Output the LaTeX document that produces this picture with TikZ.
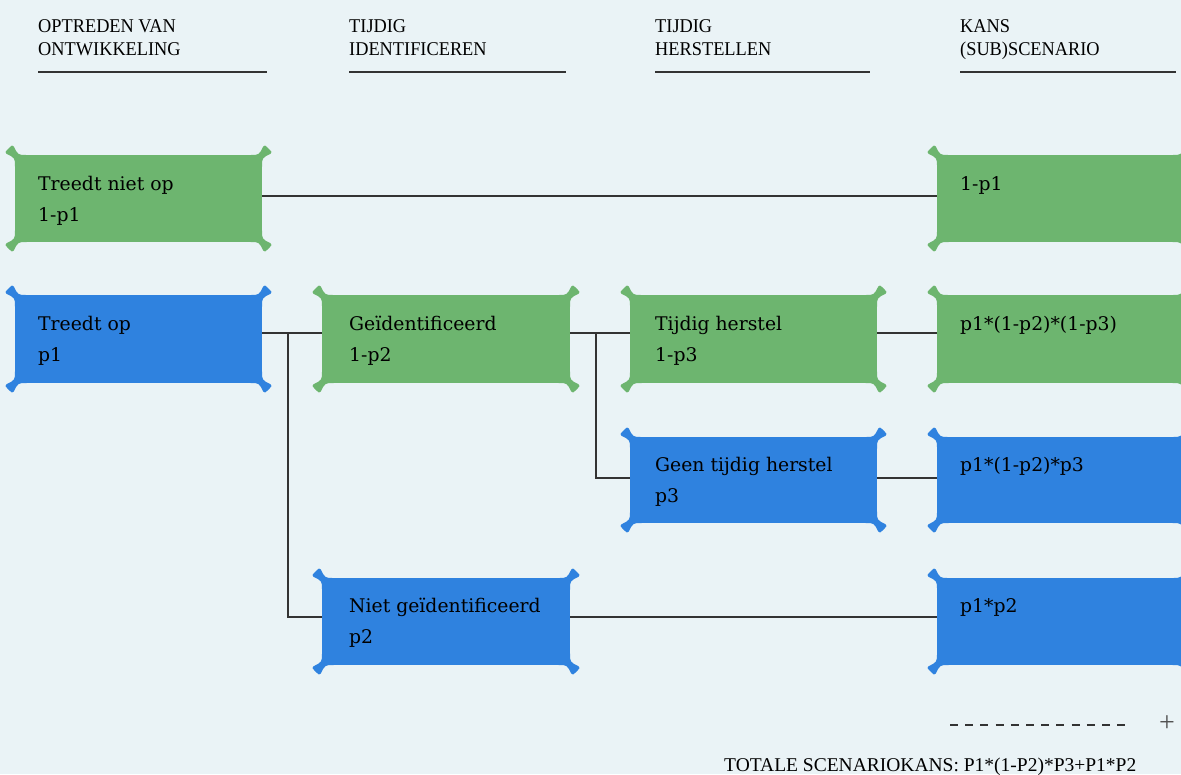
\documentclass[tikz,border=0pt]{standalone}
\usepackage{fontspec}
\setmainfont{DejaVu Serif}
\newfontfamily\hdrfont[FakeStretch=0.94]{Liberation Serif}
\newfontfamily\totfont{Liberation Serif}
\usetikzlibrary{calc}
\definecolor{bg}{HTML}{EAF3F6}
\definecolor{gbox}{HTML}{6DB56F}
\definecolor{bbox}{HTML}{2F82DF}
\definecolor{ln}{HTML}{333333}
\newcommand\flarebox[6]{%
  \node[rectangle, fill=#6, inner sep=0pt, outer sep=0pt, minimum width=#4-#2, minimum height=#5-#3, anchor=north west] (#1) at (#2,#3) {};
  \foreach \cx/\cy/\sx/\sy in {#2/#3/-1/-1, #4/#3/1/-1, #2/#5/-1/1, #4/#5/1/1}{%
    \fill[#6, rounded corners=1.5pt] (\cx-\sx*13,\cy) .. controls (\cx-\sx*3,\cy) .. (\cx+\sx*2,\cy+\sy*10)
      -- (\cx+\sx*4,\cy+\sy*9) -- (\cx+\sx*9,\cy+\sy*4) -- (\cx+\sx*10,\cy+\sy*2) .. controls (\cx,\cy-\sy*3) .. (\cx,\cy-\sy*13) -- (\cx,\cy) -- cycle;
  }%
}
\tikzset{
  hdr/.style={anchor=base west, inner sep=0pt, font=\hdrfont\fontsize{19.5}{20}\selectfont},
  txt/.style={anchor=base west, inner sep=0pt, font=\fontsize{18.8}{22}\selectfont},
  hline/.style={draw=ln, line width=1.4pt},
  conn/.style={draw=ln, line width=1.3pt},
}
\begin{document}
\begin{tikzpicture}[x=1pt,y=-1pt]
\useasboundingbox (0,0) rectangle (1181,774);
\fill[bg] (0,0) rectangle (1181,774);

% headers
\node[hdr] (h1a) at (38,32) {OPTREDEN VAN};
\node[hdr] (h1b) at (38,55) {ONTWIKKELING};
\node[hdr] (h2a) at (349,32) {TIJDIG};
\node[hdr] (h2b) at (349,55) {IDENTIFICEREN};
\node[hdr] (h3a) at (655,32) {TIJDIG};
\node[hdr] (h3b) at (655,55) {HERSTELLEN};
\node[hdr] (h4a) at (960,32) {KANS};
\node[hdr] (h4b) at (960,55) {(SUB)SCENARIO};
\coordinate (u1l) at (38,72); \coordinate (u1r) at (267,72);
\coordinate (u2l) at (349,72); \coordinate (u2r) at (566,72);
\coordinate (u3l) at (655,72); \coordinate (u3r) at (870,72);
\coordinate (u4l) at (960,72); \coordinate (u4r) at (1176,72);
\draw[hline] (u1l) -- (u1r);
\draw[hline] (u2l) -- (u2r);
\draw[hline] (u3l) -- (u3r);
\draw[hline] (u4l) -- (u4r);

% boxes
\flarebox{a1}{15}{155}{262}{242}{gbox}
\flarebox{d1}{937}{155}{1184}{242}{gbox}
\flarebox{a2}{15}{295}{262}{383}{bbox}
\flarebox{b2}{322}{295}{570}{383}{gbox}
\flarebox{c2}{630}{295}{877}{383}{gbox}
\flarebox{d2}{937}{295}{1184}{383}{gbox}
\flarebox{c3}{630}{437}{877}{523}{bbox}
\flarebox{d3}{937}{437}{1184}{523}{bbox}
\flarebox{b4}{322}{578}{570}{665}{bbox}
\flarebox{d4}{937}{578}{1184}{665}{bbox}

% texts
\node[txt] (t11) at (38,190) {Treedt niet op};
\node[txt] (t12) at (38,221) {1-p1};
\node[txt] (t14) at (960,190) {1-p1};
\node[txt] (t21) at (38,330) {Treedt op};
\node[txt] (t22) at (38,361) {p1};
\node[txt] (t23) at (349,330) {Geïdentificeerd};
\node[txt] (t24) at (349,361) {1-p2};
\node[txt] (t25) at (655,330) {Tijdig herstel};
\node[txt] (t26) at (655,361) {1-p3};
\node[txt] (t27) at (960,330) {p1*(1-p2)*(1-p3)};
\node[txt] (t31) at (655,471) {Geen tijdig herstel};
\node[txt] (t32) at (655,502) {p3};
\node[txt] (t33) at (960,471) {p1*(1-p2)*p3};
\node[txt] (t41) at (349,612) {Niet geïdentificeerd};
\node[txt] (t42) at (349,643) {p2};
\node[txt] (t43) at (960,612) {p1*p2};

% connectors
\coordinate (y1) at (0,196);
\coordinate (y2) at (0,333);
\coordinate (y3) at (0,478);
\coordinate (y4) at (0,617);
\coordinate (v1) at (288,0);
\coordinate (v2) at (596,0);
\draw[conn] (a1.east |- y1) -- (d1.west |- y1);
\draw[conn] (a2.east |- y2) -- (b2.west |- y2);
\draw[conn] (v1 |- y2) -- (v1 |- y4) -- (b4.west |- y4);
\draw[conn] (b2.east |- y2) -- (c2.west |- y2);
\draw[conn] (v2 |- y2) -- (v2 |- y3) -- (c3.west |- y3);
\draw[conn] (c2.east |- y2) -- (d2.west |- y2);
\draw[conn] (c3.east |- y3) -- (d3.west |- y3);
\draw[conn] (b4.east |- y4) -- (d4.west |- y4);

% sum
\coordinate (ds) at (950,725);
\coordinate (de) at (1128,725);
\draw[draw=ln, line width=1.3pt, dash pattern=on 8pt off 7.2pt] (ds) -- (de);
\node[font=\totfont\fontsize{28}{28}\selectfont, text=ln!85, inner sep=0pt] (plus) at (1167,724) {+};
\node[anchor=base west, inner sep=0pt, font=\totfont\fontsize{19.5}{20}\selectfont] (tot) at (724,771) {TOTALE SCENARIOKANS: P1*(1-P2)*P3+P1*P2};
\end{tikzpicture}
\end{document}
